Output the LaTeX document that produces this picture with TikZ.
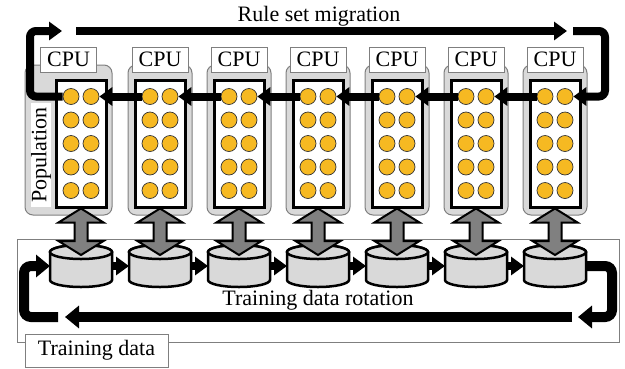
\documentclass[tikz,border=0pt]{standalone}
\usepackage{fontspec}
\setmainfont{Liberation Serif}
\usetikzlibrary{arrows.meta,positioning}
\definecolor{popgray}{HTML}{D9D9D9}
\definecolor{edgegray}{HTML}{7F7F7F}
\definecolor{ruleorange}{HTML}{F6B922}
\definecolor{arrowgray}{HTML}{808080}

\begin{document}
\begin{tikzpicture}[x=1pt,y=-1pt,font=\fontsize{22}{26}\selectfont]
  \tikzset{
    popbox/.style={draw=edgegray, fill=popgray, rounded corners=8pt, line width=1pt, minimum height=150pt, inner sep=0pt},
    cpulabel/.style={draw=edgegray, fill=white, line width=0.8pt, minimum width=56pt, minimum height=25pt, inner sep=0pt},
    rulebox/.style={draw=black, fill=white, line width=3pt, minimum width=50pt, minimum height=127pt, inner sep=0pt},
    rule/.style={circle, draw=black!80, fill=ruleorange, line width=0.7pt, minimum size=16pt, inner sep=0pt},
    dbslot/.style={minimum width=62pt, minimum height=42pt, inner sep=0pt, outer sep=0pt},
    dbase/.style={draw=black, line width=2.5pt, fill=popgray},
    exchange/.style={fill=arrowgray, draw=black, line width=2pt, line join=miter},
    myarrow/.style={-{Triangle[width=18pt,length=13pt]}, line width=8pt, black, rounded corners=6pt},
    rotarrow/.style={-{Triangle[width=22pt,length=14pt]}, line width=10pt, black, rounded corners=7pt},
  }
  \useasboundingbox (0,0) rectangle (625,368);

  % training data frame
  \node[draw=edgegray, line width=1pt, minimum width=602pt, minimum height=103pt, inner sep=0pt] (train) at (318,290.5) {};

  % populations and data blocks
  \foreach \i in {0,...,6} {
    \pgfmathsetmacro\cx{81+79*\i}
    \pgfmathsetmacro\pw{\i==0 ? 87 : 64}
    \pgfmathsetmacro\px{\i==0 ? 68.5 : \cx}
    \node[popbox, minimum width=\pw pt] (pop-\i) at (\px,140) {};
    \node[cpulabel, above=-8pt of pop-\i.north] (cpu-\i) {CPU};
    \node[rulebox] (set-\i) at (\cx,143.5) {};
    \foreach \k in {0,...,4} {
      \node[rule] (r-\i-\k-a) at (\cx-10,96.5+23.5*\k) {};
      \node[rule] (r-\i-\k-b) at (\cx+10,96.5+23.5*\k) {};
    }
    \node[dbslot] (db-\i) at (\cx,266) {};
    \draw[dbase] (db-\i.north west) ++(0,7) -- ++(0,28)
      arc[start angle=180, end angle=360, x radius=31pt, y radius=7pt] -- ++(0,-28)
      arc[start angle=0, end angle=180, x radius=31pt, y radius=7pt] -- cycle;
    \draw[dbase] ([yshift=-7pt]db-\i.north) ellipse [x radius=31pt, y radius=7pt];
    \draw[exchange] (set-\i.south) -- ++(22.5,14) -- ++(-16,0) -- ++(0,18.5) -- ++(16,0)
      -- ([yshift=-10pt]db-\i.north) -- ++(-22.5,-14) -- ++(16,0) -- ++(0,-18.5) -- ++(-16,0) -- cycle;
  }
  \node[rotate=90, fill=white, inner xsep=4pt, inner ysep=0pt] (poplabel) at (41,155) {Population};

  % rule set migration
  \foreach \i [evaluate=\i as \j using int(\i+1)] in {0,...,5}
    \draw[myarrow] (r-\j-0-a.west) -- (r-\i-0-b.east);
  \coordinate (mig-nw) at (30,31);
  \coordinate (mig-w) at (62,31);
  \coordinate (mig-start) at (76,31);
  \coordinate (mig-end) at (567,31);
  \coordinate (mig-e) at (573,31);
  \coordinate (mig-ne) at (605,31);
  \draw[myarrow] (r-0-0-a.west) -| (mig-nw) -- (mig-w);
  \draw[myarrow] (mig-start) -- (mig-end);
  \draw[myarrow] (mig-e) -- (mig-ne) |- (r-6-0-b.east);
  \node[anchor=base] (mig-text) at (319,21) {Rule set migration};

  % training data rotation
  \foreach \i [evaluate=\i as \j using int(\i+1)] in {0,...,5}
    \draw[myarrow] (db-\i.east) -- (db-\j.west);
  \coordinate (rot-e) at (572,317);
  \coordinate (rot-w) at (65,317);
  \coordinate (rot-a) at (58,317);
  \coordinate (rot-sw) at (24,317);
  \coordinate (rot-se) at (612,317);
  \coordinate (rot-b) at (578,317);
  \draw[rotarrow] (rot-e) -- (rot-w);
  \draw[rotarrow] (rot-a) -- (rot-sw) |- (db-0.west);
  \draw[rotarrow] (db-6.east) -| (rot-se) -- (rot-b);
  \node[anchor=base] (rot-text) at (318,305) {Training data rotation};

  \node[draw=edgegray, fill=white, line width=1pt, minimum width=143pt, minimum height=33pt, inner sep=0pt] (train-label) at (96.5,350.5) {Training data};
\end{tikzpicture}
\end{document}
